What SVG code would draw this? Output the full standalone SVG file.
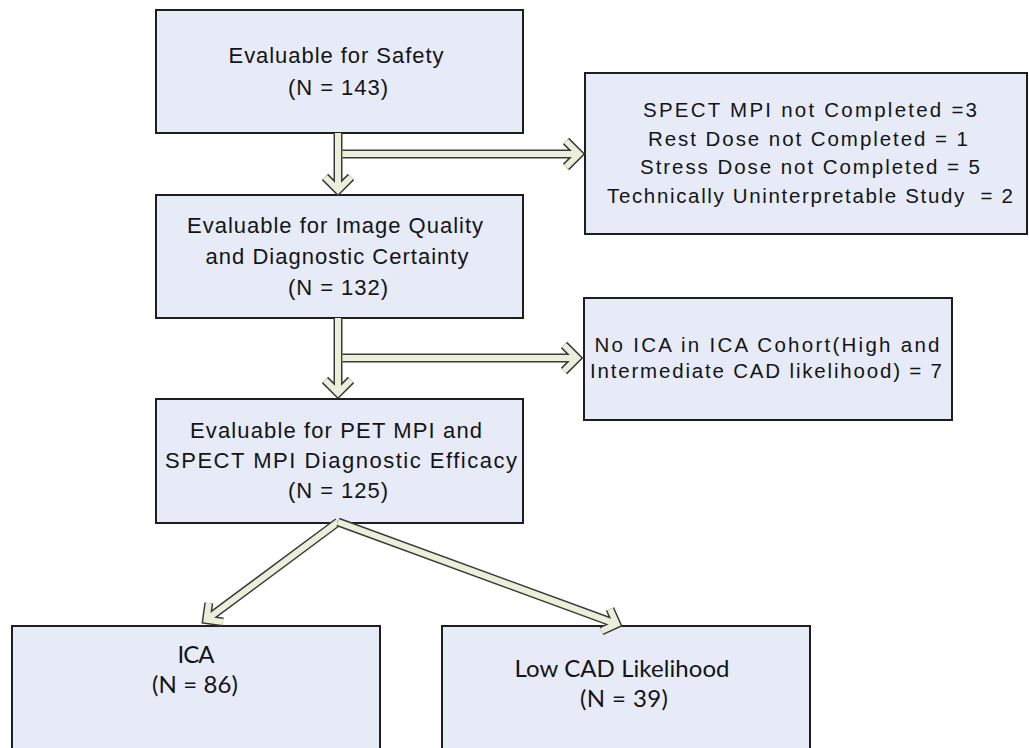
<svg xmlns="http://www.w3.org/2000/svg" width="1029" height="748" viewBox="0 0 1029 748">
<style>
.box{fill:#e6ebf7;stroke:#1e1e1e;stroke-width:2}
.t{font-family:"Liberation Sans",Arial,sans-serif;font-size:22px;fill:#141414;text-anchor:middle}
.s{font-family:"Liberation Sans",Arial,sans-serif;font-size:20.5px;fill:#141414;text-anchor:middle}
.c{font-family:Lato,"Open Sans",sans-serif;font-size:24px;fill:#141414;text-anchor:middle}
.ao{fill:none;stroke:#3a3a3a;stroke-width:9;stroke-linejoin:miter;stroke-miterlimit:4}
.ai{fill:none;stroke:#ebeed9;stroke-width:6;stroke-linejoin:miter;stroke-miterlimit:4}
</style>
<rect width="1029" height="748" fill="#ffffff"/>
<g id="safety">
<rect class="box" x="156" y="10" width="367" height="123"/>
<text class="t" x="336" y="63" textLength="215" lengthAdjust="spacing">Evaluable for Safety</text>
<text class="t" x="338" y="95" textLength="100" lengthAdjust="spacing">(N = 143)</text>
</g>
<g id="imagequality">
<rect class="box" x="156" y="195" width="367" height="123"/>
<text class="t" x="335" y="233" textLength="296" lengthAdjust="spacing">Evaluable for Image Quality</text>
<text class="t" x="337" y="264" textLength="263" lengthAdjust="spacing">and Diagnostic Certainty</text>
<text class="t" x="338" y="295" textLength="100" lengthAdjust="spacing">(N = 132)</text>
</g>
<g id="efficacy">
<rect class="box" x="156" y="399" width="367" height="124"/>
<text class="t" x="336" y="438" textLength="292" lengthAdjust="spacing">Evaluable for PET MPI and</text>
<text class="t" x="341" y="468" textLength="352" lengthAdjust="spacing">SPECT MPI Diagnostic Efficacy</text>
<text class="t" x="338" y="498" textLength="100" lengthAdjust="spacing">(N = 125)</text>
</g>
<g id="excluded1">
<rect class="box" x="585" y="73" width="442" height="161"/>
<text class="s" x="810" y="117" textLength="334" lengthAdjust="spacing">SPECT MPI not Completed =3</text>
<text class="s" x="808" y="146" textLength="320" lengthAdjust="spacing">Rest Dose not Completed = 1</text>
<text class="s" x="810" y="174" textLength="340" lengthAdjust="spacing">Stress Dose not Completed = 5</text>
<text class="s" x="810" y="203" textLength="406" lengthAdjust="spacing" xml:space="preserve">Technically Uninterpretable Study  = 2</text>
</g>
<g id="excluded2">
<rect class="box" x="584" y="298" width="368" height="122"/>
<text class="s" x="767" y="352" textLength="345" lengthAdjust="spacing">No ICA in ICA Cohort(High and</text>
<text class="s" x="766" y="378" textLength="352" lengthAdjust="spacing">Intermediate CAD likelihood) = 7</text>
</g>
<g id="ica">
<rect class="box" x="12" y="626" width="368" height="140"/>
<text class="c" x="196" y="663" textLength="37" lengthAdjust="spacing">ICA</text>
<text class="c" x="195" y="693" textLength="86" lengthAdjust="spacing">(N = 86)</text>
</g>
<g id="lowcad">
<rect class="box" x="442" y="626" width="368" height="140"/>
<text class="c" x="622" y="677" textLength="215" lengthAdjust="spacing">Low CAD Likelihood</text>
<text class="c" x="624" y="707" textLength="88" lengthAdjust="spacing">(N = 39)</text>
</g>
<g id="connectors">
<g id="arrow1">
<path class="ao" d="M338 133 V190 M325 177 L338 190 L351 177"/>
<path class="ai" d="M338 133 V190 M325 177 L338 190 L351 177"/>
<path class="ao" d="M342.5 154 H579 M566 141 L579 154 L566 167"/>
<path class="ai" d="M342.5 154 H579 M566 141 L579 154 L566 167"/>
</g>
<g id="arrow2">
<path class="ao" d="M338 318 V393 M325 380 L338 393 L351 380"/>
<path class="ai" d="M338 318 V393 M325 380 L338 393 L351 380"/>
<path class="ao" d="M342.5 358 H577 M564 345 L577 358 L564 371"/>
<path class="ai" d="M342.5 358 H577 M564 345 L577 358 L564 371"/>
</g>
<g id="arrow3">
<path class="ao" d="M338 522 L206.5 619.7 M223 622 L206.5 619.7 L208.8 603"/>
<path class="ai" d="M338 522 L206.5 619.7 M223 622 L206.5 619.7 L208.8 603"/>
</g>
<g id="arrow4">
<path class="ao" d="M338 522 L616.7 624.1 M610 609 L616.7 624.1 L601.5 631"/>
<path class="ai" d="M338 522 L616.7 624.1 M610 609 L616.7 624.1 L601.5 631"/>
</g>
</g>
</svg>
